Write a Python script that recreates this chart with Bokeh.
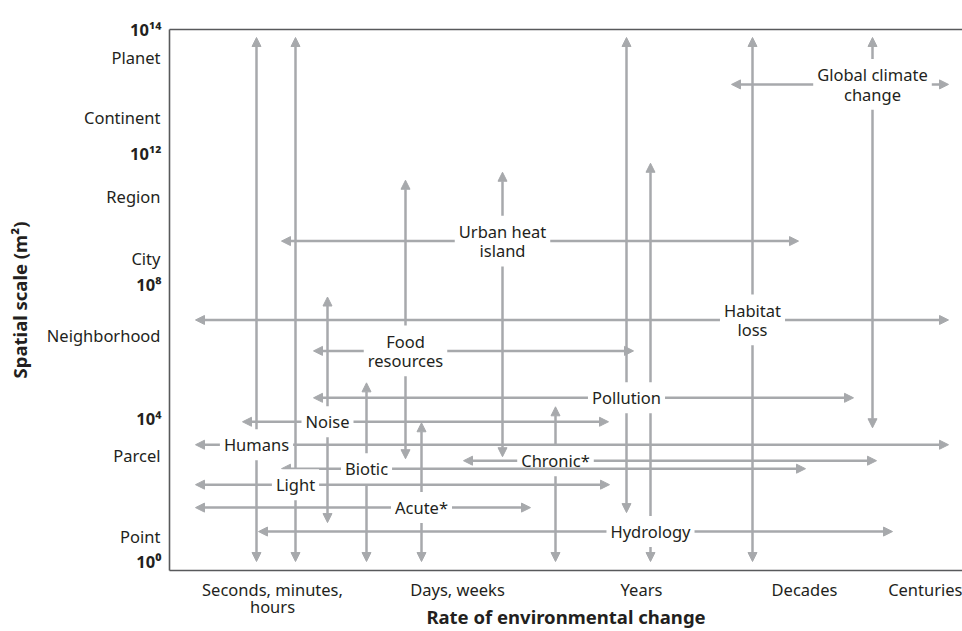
from bokeh.plotting import figure
from bokeh.models import (ColumnDataSource, Arrow, NormalHead, Label, LinearAxis,
                          FixedTicker, Range1d)
from bokeh.embed import file_html
from bokeh.resources import INLINE

# ---- data (chart units: x = rate of change position, y = spatial scale position) ----
factors = ["Hydrology", "Pollution", "Chronic*", "Humans", "Biotic", "Light",
           "Global climate\nchange", "Urban heat\nisland", "Habitat\nloss",
           "Food\nresources", "Noise", "Acute*"]
label_x = [481, 457, 386, 87, 197, 126, 703, 333, 583, 236, 158, 252]
label_y = [39, 173, 110, 126, 102, 86, 487, 330, 251, 220, 149, 63]
rate_from = [89, 144, 294, 26, 112, 26, 562, 112, 26, 144, 73, 26]
rate_to = [723, 684, 707, 779, 636, 440, 779, 629, 779, 464, 439, 361]
scale_from = [9, 58, 9, 9, 9, 9, 143, 114, 9, 112, 48, 9]
scale_to = [408, 534, 164, 534, 188, 534, 534, 399, 534, 391, 274, 148]

rate_ticks = [103, 288, 472, 635, 762]
rate_labels = ["Seconds, minutes,\nhours", "Days, weeks", "Years", "Decades", "Centuries"]
scale_name_ticks = [514, 454, 375, 313, 235, 115, 34]
scale_names = ["Planet", "Continent", "Region", "City", "Neighborhood", "Parcel", "Point"]
power_ticks = [542, 418, 287, 152, 9]
power_labels = ["10\u00b9\u2074", "10\u00b9\u00b2", "10\u2078", "10\u2074", "10\u2070"]

FONT = "Noto Sans"
TXT = "#231f20"
GRAY = "#a7a9ac"
FRAME = "#58595b"
FS = "16.5px"

p = figure(width=962, height=631, x_range=Range1d(0, 793), y_range=Range1d(0, 542),
           output_backend="svg", toolbar_location=None,
           min_border_left=169, min_border_right=0, min_border_top=29, min_border_bottom=60)
p.outline_line_color = None
p.grid.visible = False
p.background_fill_color = "white"

# bottom axis
xa = p.xaxis[0]
xa.ticker = FixedTicker(ticks=rate_ticks)
xa.major_label_overrides = {t: l for t, l in zip(rate_ticks, rate_labels)}
xa.major_tick_line_color = None
xa.minor_tick_line_color = None
xa.major_tick_out = 0
xa.major_tick_in = 0
xa.axis_line_color = FRAME
xa.axis_line_width = 1.6
xa.major_label_standoff = 7
xa.major_label_text_font = FONT
xa.major_label_text_font_size = FS
xa.major_label_text_color = TXT
xa.major_label_text_line_height = 0.75
xa.axis_label = "Rate of environmental change"
xa.axis_label_text_font = FONT
xa.axis_label_text_font_size = "18.5px"
xa.axis_label_text_font_style = "bold"
xa.axis_label_text_color = TXT
xa.axis_label_standoff = -17

# inner left axis: powers of ten (bold)
ya = p.yaxis[0]
ya.ticker = FixedTicker(ticks=power_ticks)
ya.major_label_overrides = {t: l for t, l in zip(power_ticks, power_labels)}
ya.major_tick_line_color = None
ya.minor_tick_line_color = None
ya.major_tick_out = 0
ya.major_tick_in = 0
ya.axis_line_color = FRAME
ya.axis_line_width = 1.6
ya.major_label_standoff = 8
ya.major_label_text_font = FONT
ya.major_label_text_font_size = FS
ya.major_label_text_font_style = "bold"
ya.major_label_text_color = TXT

# outer left axis: named scales, pulled back to the same column
names_axis = LinearAxis(ticker=FixedTicker(ticks=scale_name_ticks),
                        major_label_overrides={t: l for t, l in zip(scale_name_ticks, scale_names)},
                        axis_line_color=None, major_tick_line_color=None,
                        minor_tick_line_color=None, major_tick_out=0, major_tick_in=0,
                        major_label_standoff=-33,
                        major_label_text_font=FONT, major_label_text_font_size=FS,
                        major_label_text_color=TXT,
                        axis_label="Spatial scale (m\u00b2)", axis_label_text_font=FONT,
                        axis_label_text_font_size="18.5px", axis_label_text_font_style="bold",
                        axis_label_text_color=TXT, axis_label_standoff=12)
p.add_layout(names_axis, "left")

# top frame line
top = LinearAxis(ticker=FixedTicker(ticks=[]), axis_line_color=FRAME, axis_line_width=1.6,
                 major_tick_line_color=None, minor_tick_line_color=None)
p.add_layout(top, "above")

# factor arrows and labels
for i, name in enumerate(factors):
    src = ColumnDataSource(dict(
        xs=[rate_from[i], label_x[i]], xe=[rate_to[i], label_x[i]],
        ys=[label_y[i], scale_from[i]], ye=[label_y[i], scale_to[i]]))
    p.add_layout(Arrow(x_start="xs", y_start="ys", x_end="xe", y_end="ye", source=src,
                       line_color=GRAY, line_width=2.5,
                       start=NormalHead(size=9, fill_color=GRAY, line_color=GRAY, line_width=1),
                       end=NormalHead(size=9, fill_color=GRAY, line_color=GRAY, line_width=1)))
    p.add_layout(Label(x=label_x[i], y=label_y[i], text=name, text_align="center",
                       text_baseline="middle", text_font=FONT, text_font_size=FS,
                       text_color=TXT, text_line_height=0.86,
                       background_fill_color="white", padding=4))

open("out.html", "w").write(file_html(p, INLINE))
